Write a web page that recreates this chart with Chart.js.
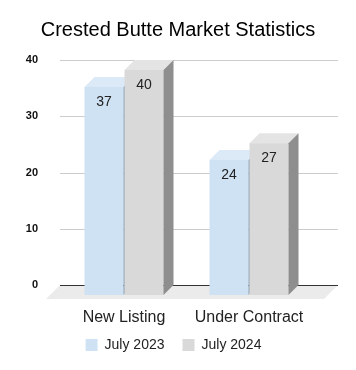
<!DOCTYPE html>
<html><head><meta charset="utf-8">
<script src="https://cdn.jsdelivr.net/npm/chart.js@4/dist/chart.umd.min.js"></script>
<style>html,body{margin:0;padding:0;background:#fff}#wrap{width:356px;height:370px}</style>
</head><body><div id="wrap"><canvas id="c" width="356" height="370"></canvas></div>
<script>
const categories = ['New Listing', 'Under Contract'];
const seriesNames = ['July 2023', 'July 2024'];
const july2023 = [37, 24];
const july2024 = [40, 27];
const yTickValues = [0, 10, 20, 30, 40];

const FONT = 'Arial, "Liberation Sans", sans-serif';
const DEPTH = 10;
const FLOOR = 14;
const palette = [
  {front: '#cfe2f3', top: '#dce9f6', side: '#8b9fb2'},
  {front: '#d9d9d9', top: '#e4e4e4', side: '#8e8e8e'}
];

const threeD = {
  id: 'threeD',
  afterLayout(chart) {
    const lg = chart.legend;
    lg.left -= 4.5; lg.right -= 4.5;
    lg.top -= 8; lg.bottom -= 8;
  },
  beforeDatasetsDraw(chart) {
    const {ctx, chartArea: a, scales: {y}} = chart;
    const gl = a.left - 1.5, gr = a.right + 26.5;
    const y0 = y.getPixelForValue(0);
    ctx.save();
    ctx.fillStyle = '#ebebeb';
    ctx.beginPath();
    ctx.moveTo(gl, y0); ctx.lineTo(gr, y0);
    ctx.lineTo(gr - FLOOR, y0 + FLOOR); ctx.lineTo(gl - FLOOR, y0 + FLOOR);
    ctx.closePath(); ctx.fill();
    ctx.lineWidth = 1;
    y.ticks.forEach(t => {
      const py = Math.round(y.getPixelForValue(t.value)) + 0.5;
      ctx.strokeStyle = t.value === 0 ? '#333333' : '#cccccc';
      ctx.beginPath(); ctx.moveTo(gl, py); ctx.lineTo(gr, py); ctx.stroke();
    });
    ctx.restore();
  },
  beforeDatasetDraw() { return false; },
  afterDatasetsDraw(chart) {
    const {ctx} = chart;
    const n = chart.data.labels.length;
    ctx.save();
    for (let i = 0; i < n; i++) {
      chart.data.datasets.forEach((ds, d) => {
        const bar = chart.getDatasetMeta(d).data[i];
        const {x, y: top, base, width} = bar.getProps(['x', 'y', 'base', 'width'], true);
        const c = palette[d];
        const l = x - width / 2, r = x + width / 2;
        const ft = top + DEPTH, fb = base + DEPTH;
        ctx.fillStyle = c.front;
        ctx.fillRect(l, ft, width, fb - ft);
        ctx.fillStyle = c.top;
        ctx.beginPath();
        ctx.moveTo(l, ft); ctx.lineTo(r, ft); ctx.lineTo(r + DEPTH, top); ctx.lineTo(l + DEPTH, top);
        ctx.closePath(); ctx.fill();
        ctx.fillStyle = c.side;
        ctx.beginPath();
        ctx.moveTo(r, ft); ctx.lineTo(r + DEPTH, top); ctx.lineTo(r + DEPTH, base); ctx.lineTo(r, fb);
        ctx.closePath(); ctx.fill();
        ctx.fillStyle = '#222222';
        ctx.font = '14px ' + FONT;
        ctx.textAlign = 'center';
        ctx.textBaseline = 'middle';
        ctx.fillText(String(ds.data[i]), x, ft + 15);
      });
    }
    ctx.restore();
  }
};

new Chart(document.getElementById('c'), {
  type: 'bar',
  data: {
    labels: categories,
    datasets: [
      {label: seriesNames[0], data: july2023, backgroundColor: palette[0].front, borderWidth: 0},
      {label: seriesNames[1], data: july2024, backgroundColor: palette[1].front, borderWidth: 0}
    ]
  },
  options: {
    responsive: false,
    animation: false,
    devicePixelRatio: 1,
    categoryPercentage: 0.64,
    barPercentage: 0.975,
    layout: {padding: 0},
    scales: {
      x: {
        grid: {display: false, drawTicks: false},
        border: {display: false},
        ticks: {font: {family: FONT, size: 16}, color: '#222222', padding: 22.9},
        afterFit(s) { s.height = 43; }
      },
      y: {
        min: 0, max: 40,
        afterBuildTicks(s) { s.ticks = yTickValues.map(v => ({value: v})); },
        grid: {display: false, drawTicks: false},
        border: {display: false},
        ticks: {font: {family: FONT, size: 11, weight: 'bold'}, color: '#111111', padding: 23.5},
        afterFit(s) { s.width = 61.5; }
      },
      yR: {
        position: 'right',
        grid: {display: false, drawTicks: false},
        border: {display: false},
        ticks: {display: false},
        afterFit(s) { s.width = 44.5; }
      }
    },
    plugins: {
      title: {
        display: true,
        text: 'Crested Butte Market Statistics',
        font: {family: FONT, size: 20, weight: 'normal'},
        color: '#000000',
        padding: {top: 18, bottom: 18}
      },
      legend: {
        position: 'bottom',
        labels: {
          boxWidth: 12, boxHeight: 12, padding: 18,
          font: {family: FONT, size: 14}, color: '#222222'
        }
      },
      tooltip: {enabled: false}
    }
  },
  plugins: [threeD]
});
</script></body></html>
